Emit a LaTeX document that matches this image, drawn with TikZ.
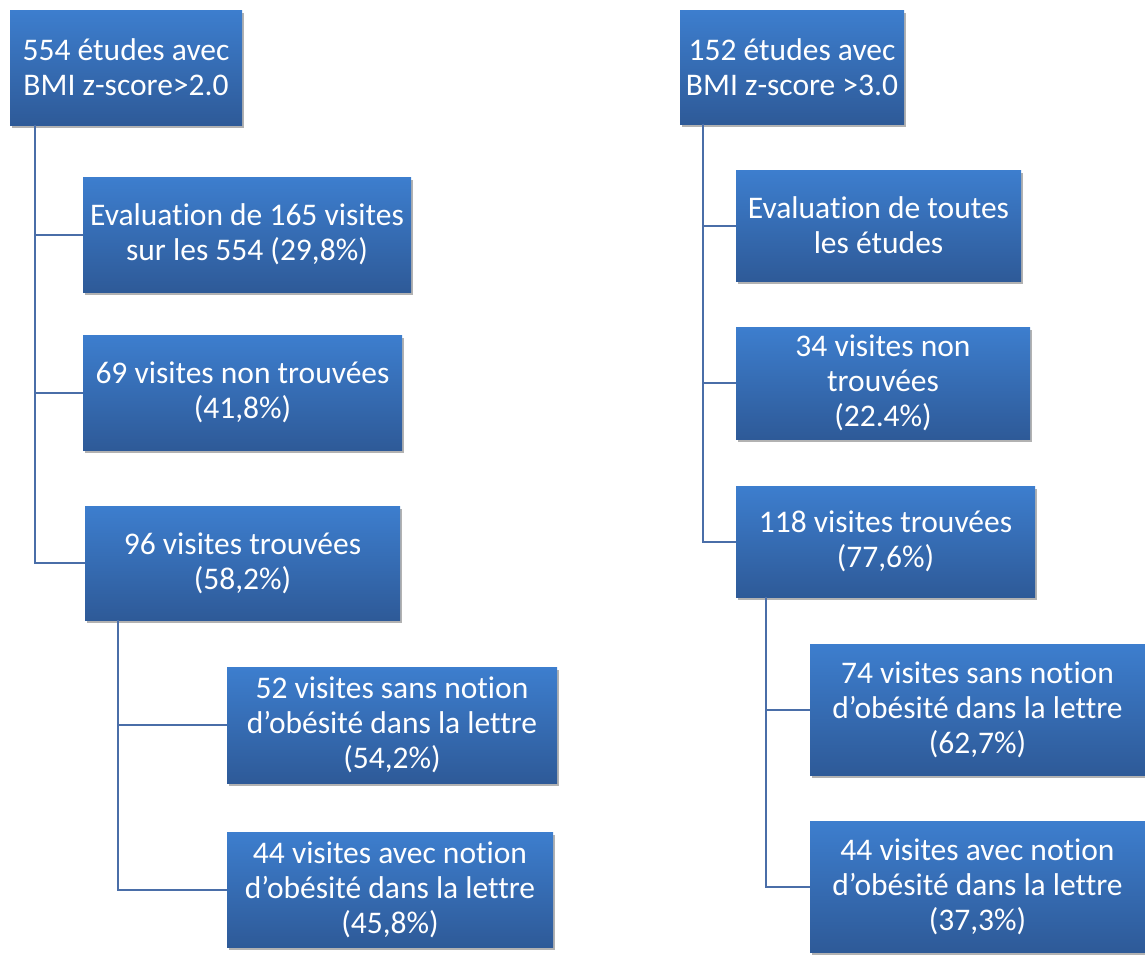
\documentclass[tikz,border=0pt]{standalone}
\usepackage{fontspec}
\setmainfont{Carlito}[Ligatures=NoCommon]
\usetikzlibrary{shadows}
\definecolor{boxtop}{HTML}{3D7ECE}
\definecolor{boxbot}{HTML}{2E5A98}
\definecolor{linec}{HTML}{4A6EA8}
\tikzset{
  box/.style={rectangle, inner sep=1pt, align=center, text=white,
    top color=boxtop, bottom color=boxbot, draw=none,
    font=\fontsize{31.5}{35}\selectfont,
    drop shadow={shadow xshift=2pt, shadow yshift=-3pt, opacity=0.3, fill=black}},
  conn/.style={draw=linec, line width=2pt}
}
\begin{document}
\begin{tikzpicture}[x=1pt,y=-1pt]
\useasboundingbox (0,0) rectangle (1145,954);
% left column
\node[box, minimum width=232pt, minimum height=115pt] (L1) at (126,67.5) {554 études avec\\BMI z-score>2.0};
\node[box, minimum width=328pt, minimum height=115pt] (L2) at (247,234.5) {Evaluation de 165 visites\\sur les 554 (29,8\%)};
\node[box, minimum width=319pt, minimum height=115pt] (L3) at (242.5,392.5) {69 visites non trouvées\\(41,8\%)};
\node[box, minimum width=315pt, minimum height=114pt] (L4) at (242.5,563) {96 visites trouvées\\(58,2\%)};
\node[box, minimum width=330pt, minimum height=116pt] (L5) at (392,725) {52 visites sans notion\\d’obésité dans la lettre\\(54,2\%)};
\node[box, minimum width=326pt, minimum height=115pt] (L6) at (390,889.5) {44 visites avec notion\\d’obésité dans la lettre\\(45,8\%)};
% right column
\node[box, minimum width=224pt, minimum height=114pt] (R1) at (792,67) {152 études avec\\BMI z-score >3.0};
\node[box, minimum width=285pt, minimum height=111pt] (R2) at (878.5,225.5) {Evaluation de toutes\\les études};
\node[box, minimum width=294pt, minimum height=112pt] (R3) at (883,383) {34 visites non\\trouvées\\(22.4\%)};
\node[box, minimum width=299pt, minimum height=111pt] (R4) at (885.5,541.5) {118 visites trouvées\\(77,6\%)};
\node[box, minimum width=335pt, minimum height=131pt] (R5) at (977.5,709.5) {74 visites sans notion\\d’obésité dans la lettre\\(62,7\%)};
\node[box, minimum width=335pt, minimum height=131pt] (R6) at (977.5,886.5) {44 visites avec notion\\d’obésité dans la lettre\\(37,3\%)};
% connectors
\coordinate (a) at (35,125);
\coordinate (b) at (118,620);
\coordinate (c) at (703,124);
\coordinate (d) at (766,597);
\draw[conn] (a) |- (L2.west);
\draw[conn] (a) |- (L3.west);
\draw[conn] (a) |- (L4.west);
\draw[conn] (b) |- (L5.west);
\draw[conn] (b) |- (L6.west);
\draw[conn] (c) |- (R2.west);
\draw[conn] (c) |- (R3.west);
\draw[conn] (c) |- (R4.west);
\draw[conn] (d) |- (R5.west);
\draw[conn] (d) |- (R6.west);
\end{tikzpicture}
\end{document}
